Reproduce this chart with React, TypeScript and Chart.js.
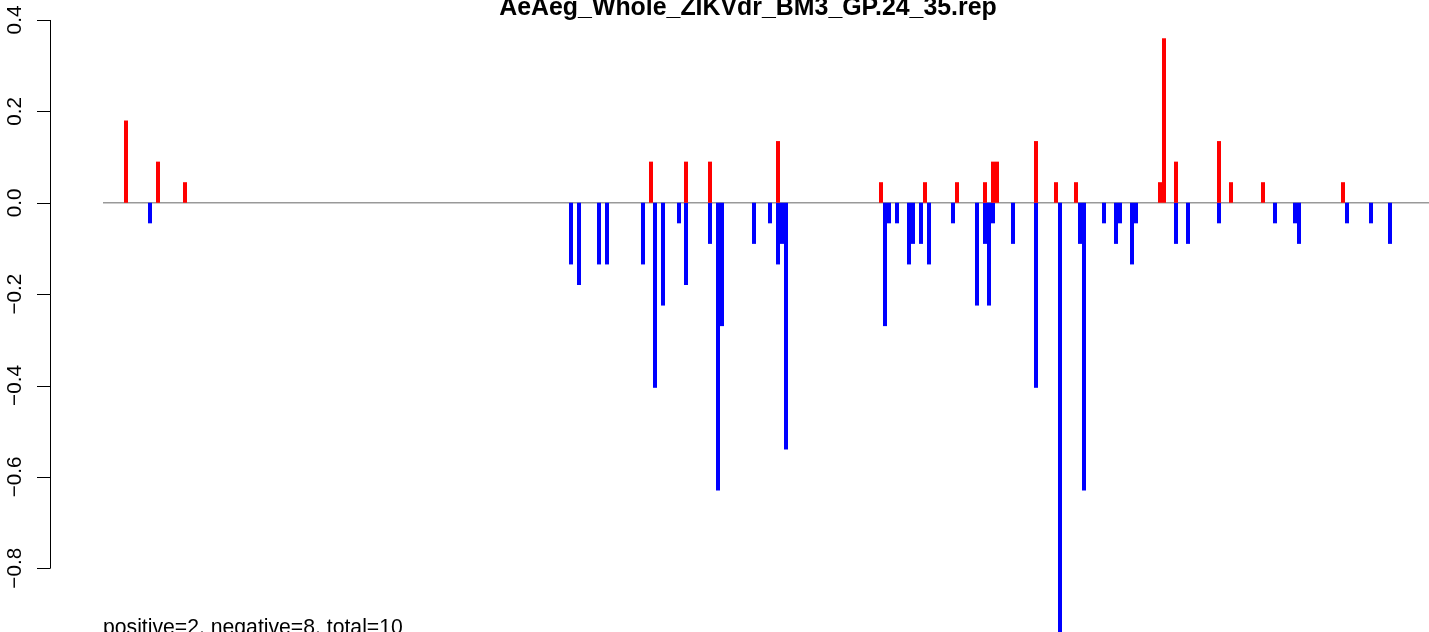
import React, { useEffect, useRef } from "react";
import { Chart, registerables } from "chart.js";

Chart.register(...registerables);

const chartTitle = "AeAeg_Whole_ZIKVdr_BM3_GP.24_35.rep";
const footText = "positive=2, negative=8, total=10";

// positions (plot units) and values of positive (red) bars
const posX = [126, 158, 185, 651, 686, 710, 778, 881, 925, 957, 985, 993, 997, 1036, 1056, 1076, 1160, 1164, 1176, 1219, 1231, 1263, 1343];
const posY = [0.18, 0.09, 0.045, 0.09, 0.09, 0.09, 0.135, 0.045, 0.045, 0.045, 0.045, 0.09, 0.09, 0.135, 0.045, 0.045, 0.045, 0.36, 0.09, 0.135, 0.045, 0.045, 0.045];

// positions and values of negative (blue) bars
const negX = [150, 571, 579, 599, 607, 643, 655, 663, 679, 686, 710, 718, 722, 754, 770, 778, 782, 786, 885, 889, 897, 909, 913, 921, 929, 953, 977, 985, 989, 993, 1013, 1036, 1060, 1080, 1084, 1104, 1116, 1120, 1132, 1136, 1176, 1188, 1219, 1275, 1295, 1299, 1347, 1371, 1390];
const negY = [-0.045, -0.135, -0.18, -0.135, -0.135, -0.135, -0.405, -0.225, -0.045, -0.18, -0.09, -0.63, -0.27, -0.09, -0.045, -0.135, -0.09, -0.54, -0.27, -0.045, -0.045, -0.135, -0.09, -0.09, -0.135, -0.045, -0.225, -0.09, -0.225, -0.045, -0.09, -0.405, -0.945, -0.09, -0.63, -0.045, -0.09, -0.045, -0.135, -0.045, -0.09, -0.09, -0.045, -0.045, -0.045, -0.09, -0.045, -0.045, -0.09];

const yTicks = [0.4, 0.2, 0.0, -0.2, -0.4, -0.6, -0.8];
const yTickLabels = ["0.4", "0.2", "0.0", "\u22120.2", "\u22120.4", "\u22120.6", "\u22120.8"];

const X_MIN = 0;
const X_MAX = 1429;
const Y_MAX = 0.44377;
const Y_MIN = -0.93947;
const BASELINE_START = 103;

const W = 1429;
const H = 632;
const FONT = '"Liberation Sans", Arial, Helvetica, sans-serif';

const decorPlugin = {
  id: "decor",
  beforeDatasetsDraw(chart: any) {
    const ctx = chart.ctx;
    const ys = chart.scales.y;
    const xs = chart.scales.x;
    const y0 = ys.getPixelForValue(0);
    ctx.save();
    ctx.strokeStyle = "#999999";
    ctx.lineWidth = 1.5;
    ctx.beginPath();
    ctx.moveTo(xs.getPixelForValue(BASELINE_START), y0);
    ctx.lineTo(xs.getPixelForValue(X_MAX), y0);
    ctx.stroke();
    ctx.restore();
  },
  afterDraw(chart: any) {
    const ctx = chart.ctx;
    const ys = chart.scales.y;
    ctx.save();
    // y axis
    const axisX = 50.5;
    const top = ys.getPixelForValue(yTicks[0]);
    const bot = ys.getPixelForValue(yTicks[yTicks.length - 1]);
    ctx.strokeStyle = "#000";
    ctx.lineWidth = 1;
    ctx.beginPath();
    ctx.moveTo(axisX, top);
    ctx.lineTo(axisX, bot);
    yTicks.forEach((v) => {
      const py = Math.round(ys.getPixelForValue(v)) + 0.5;
      ctx.moveTo(axisX, py);
      ctx.lineTo(37, py);
    });
    ctx.stroke();
    // tick labels, rotated
    ctx.fillStyle = "#000";
    ctx.font = `20.7px ${FONT}`;
    ctx.textAlign = "center";
    ctx.textBaseline = "alphabetic";
    yTicks.forEach((v, i) => {
      const py = ys.getPixelForValue(v);
      ctx.save();
      ctx.translate(20.5, py);
      ctx.rotate(-Math.PI / 2);
      ctx.fillText(yTickLabels[i], 0, 0);
      ctx.restore();
    });
    // title
    ctx.font = `bold 24.9px ${FONT}`;
    ctx.textAlign = "center";
    ctx.fillText(chartTitle, 748, 15);
    // footer
    ctx.font = `21.2px ${FONT}`;
    ctx.textAlign = "left";
    ctx.fillText(footText, 103, 634);
    ctx.restore();
  },
};

export default function App() {
  const ref = useRef<HTMLCanvasElement | null>(null);
  useEffect(() => {
    if (!ref.current) return;
    const chart = new Chart(ref.current, {
      type: "bar",
      data: {
        datasets: [
          {
            label: "positive",
            data: posX.map((x, i) => ({ x, y: posY[i] })),
            backgroundColor: "#FF0000",
            borderWidth: 0,
            barThickness: 4,
            inflateAmount: 0,
            grouped: false,
          } as any,
          {
            label: "negative",
            data: negX.map((x, i) => ({ x, y: negY[i] })),
            backgroundColor: "#0000FF",
            borderWidth: 0,
            barThickness: 4,
            inflateAmount: 0,
            grouped: false,
          } as any,
        ],
      },
      options: {
        animation: false,
        responsive: false,
        maintainAspectRatio: false,
        devicePixelRatio: 1,
        layout: { padding: 0 },
        plugins: {
          legend: { display: false },
          title: { display: false },
          tooltip: { enabled: false },
        },
        scales: {
          x: { type: "linear", min: X_MIN, max: X_MAX, display: false, offset: false },
          y: { type: "linear", min: Y_MIN, max: Y_MAX, display: false },
        },
      },
      plugins: [decorPlugin],
    });
    return () => chart.destroy();
  }, []);
  return (
    <div style={{ position: "fixed", left: 0, top: 0, width: W, height: H, background: "#fff" }}>
      <canvas ref={ref} width={W} height={H} style={{ width: W, height: H, display: "block" }} />
    </div>
  );
}
